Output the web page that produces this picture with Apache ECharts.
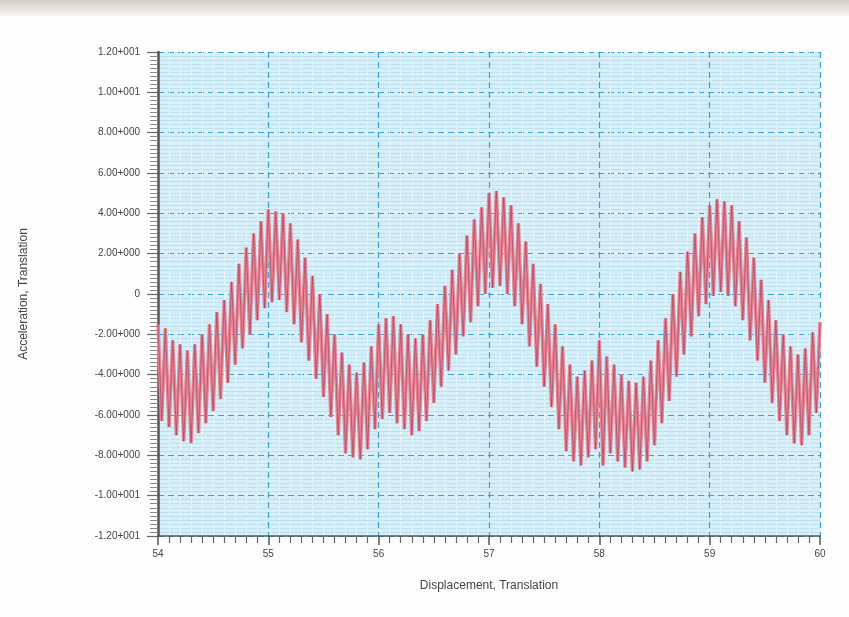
<!DOCTYPE html>
<html>
<head>
<meta charset="utf-8">
<title>Acceleration vs Displacement</title>
<script src="https://cdn.jsdelivr.net/npm/echarts@6/dist/echarts.min.js"></script>
<style>
  html, body { margin: 0; padding: 0; background: #fdfdfd; }
  #chart { width: 849px; height: 617px; }
</style>
</head>
<body>
<div id="chart"></div>
<script>
// x axis: displacement, signal sampled every 1/30 unit from 54 to 60
var xStart = 54;
var xStep = 1 / 30;
var xTicks = [54, 55, 56, 57, 58, 59, 60];
var yTicks = [-12, -10, -8, -6, -4, -2, 0, 2, 4, 6, 8, 10, 12];

// acceleration, alternating crest / trough of the fast oscillation
var accel = [
  -1.5, -6.3, -1.7, -6.6, -2.3, -7.0, -2.5, -7.3, -2.8, -7.4,
  -2.5, -6.9, -2.0, -6.4, -1.5, -5.8, -0.9, -5.2, -0.3, -4.4,
  0.6, -3.5, 1.5, -2.7, 2.3, -2.0, 3.0, -1.3, 3.6, -0.7,
  4.2, -0.4, 4.1, -0.3, 4.0, -0.9, 3.5, -1.5, 2.7, -2.4,
  1.8, -3.3, 0.9, -4.2, 0.0, -5.1, -1.0, -6.1, -2.0, -7.0,
  -2.9, -7.9, -3.5, -8.1, -3.9, -8.2, -3.4, -7.7, -2.6, -6.7,
  -1.5, -6.2, -1.2, -5.9, -1.1, -6.4, -1.5, -6.7, -2.0, -7.0,
  -2.2, -6.8, -2.0, -6.3, -1.3, -5.4, -0.5, -4.6, 0.4, -3.8,
  1.2, -3.0, 2.0, -2.1, 2.9, -1.4, 3.7, -0.6, 4.3, 0.0,
  5.0, 0.3, 5.1, 0.4, 4.8, 0.0, 4.4, -0.6, 3.5, -1.5,
  2.6, -2.6, 1.5, -3.6, 0.5, -4.6, -0.5, -5.6, -1.5, -6.7,
  -2.6, -7.8, -3.5, -8.3, -4.1, -8.5, -3.8, -8.1, -3.3, -7.7,
  -2.3, -8.5, -3.1, -7.9, -3.5, -8.3, -4.0, -8.6, -4.3, -8.8,
  -4.4, -8.7, -4.1, -8.3, -3.3, -7.5, -2.3, -6.4, -1.2, -5.3,
  0.0, -4.1, 1.1, -3.0, 2.1, -2.1, 3.0, -1.1, 3.8, -0.5,
  4.4, -0.1, 4.7, 0.1, 4.6, -0.1, 4.4, -0.6, 3.6, -1.3,
  2.8, -2.3, 1.8, -3.3, 0.7, -4.4, -0.3, -5.4, -1.3, -6.3,
  -2.0, -7.0, -2.6, -7.4, -3.0, -7.5, -2.7, -7.0, -1.9, -5.9,
  -1.4
];

// "1.20+001" style labels
function sciLabel(v) {
  if (v === 0) return '0';
  var e = Math.floor(Math.log10(Math.abs(v)));
  var m = v / Math.pow(10, e);
  var es = (e < 0 ? '-' : '+') + String(Math.abs(e)).padStart(3, '0');
  return m.toFixed(2) + es;
}

var points = accel.map(function (y, i) {
  return [xStart + i * xStep, y];
});

var chart = echarts.init(document.getElementById('chart'), null, { renderer: 'canvas' });
chart.setOption({
  animation: false,
  backgroundColor: '#fdfdfd',
  textStyle: { fontFamily: 'Liberation Sans, Arial, sans-serif' },
  graphic: [
    {
      // greyish strip along the top of the screenshot
      type: 'rect',
      left: 0, top: 0,
      shape: { width: 849, height: 16 },
      style: {
        fill: new echarts.graphic.LinearGradient(0, 0, 0, 1, [
          { offset: 0, color: '#d2cfc4' },
          { offset: 1, color: '#f6f5f0' }
        ])
      },
      silent: true
    }
  ],
  grid: {
    left: 158,
    top: 52,
    width: 662,
    height: 484,
    show: true,
    backgroundColor: '#d6eff9',
    borderWidth: 0
  },
  xAxis: {
    type: 'value',
    min: xTicks[0],
    max: xTicks[xTicks.length - 1],
    interval: 1,
    name: 'Displacement, Translation',
    nameLocation: 'middle',
    nameGap: 44,
    nameTextStyle: { color: '#444', fontSize: 12 },
    axisLine: { show: true, onZero: false, lineStyle: { color: '#555', width: 1.5 } },
    axisTick: { show: true, length: 9, lineStyle: { color: '#555', width: 1.5 } },
    minorTick: { show: true, splitNumber: 10, length: 7, lineStyle: { color: '#666', width: 1.2 } },
    axisLabel: { color: '#444', fontSize: 10, margin: 13 },
    splitLine: { show: true, lineStyle: { color: '#3f9fd0', type: [6, 4], width: 1.2 } },
    minorSplitLine: { show: true, lineStyle: { color: '#eef9fd', type: [3, 2], width: 1 } }
  },
  yAxis: {
    type: 'value',
    min: yTicks[0],
    max: yTicks[yTicks.length - 1],
    interval: 2,
    name: 'Acceleration, Translation',
    nameLocation: 'middle',
    nameGap: 128,
    nameRotate: 90,
    nameTextStyle: { color: '#444', fontSize: 12 },
    axisLine: { show: true, onZero: false, lineStyle: { color: '#555', width: 2.5 } },
    axisTick: { show: true, length: 11, lineStyle: { color: '#666', width: 1.2 } },
    minorTick: { show: true, splitNumber: 10, length: 8, lineStyle: { color: '#888', width: 1 } },
    axisLabel: { color: '#444', fontSize: 10, margin: 18, formatter: sciLabel },
    splitLine: { show: true, lineStyle: { color: '#3f9fd0', type: [6, 4], width: 1.2 } },
    minorSplitLine: { show: true, lineStyle: { color: '#bfe0ee', width: 1 } }
  },
  series: [
    {
      // pinkish body of the trace
      name: 'Acceleration',
      type: 'line',
      data: points,
      showSymbol: false,
      lineStyle: { color: '#e98596', width: 3.5 },
      z: 5
    },
    {
      // darker core of the same trace
      name: 'Acceleration core',
      type: 'line',
      data: points,
      showSymbol: false,
      lineStyle: { color: '#9b4458', width: 0.8, opacity: 0.8 },
      z: 6
    }
  ]
});
</script>
</body>
</html>
